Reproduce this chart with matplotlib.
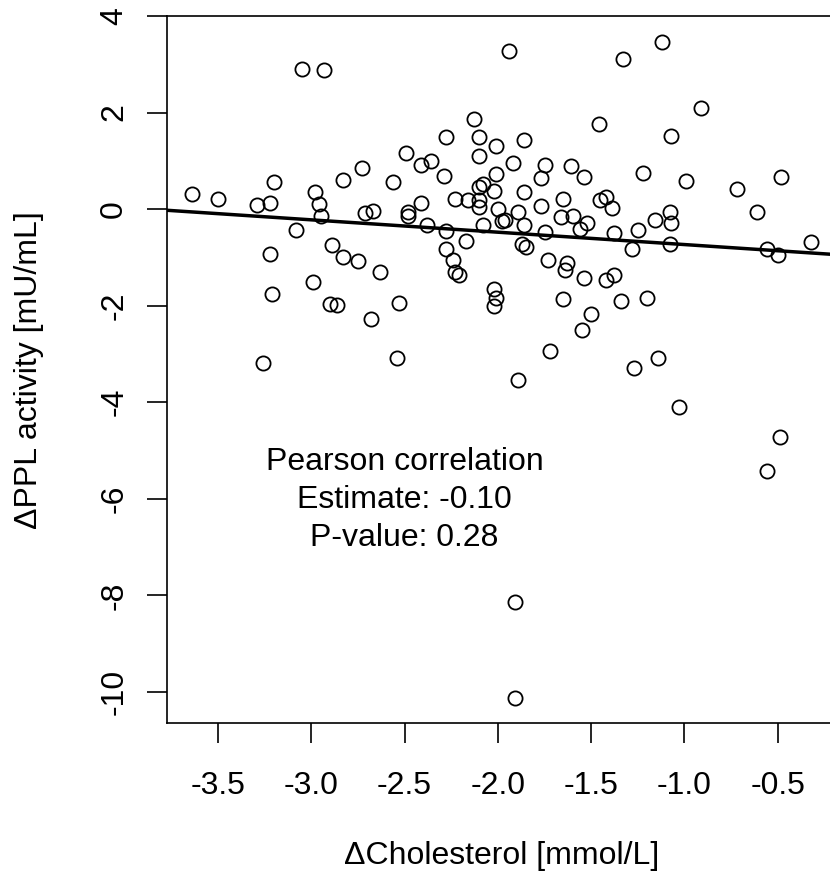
import matplotlib
matplotlib.use('Agg')
import matplotlib.pyplot as plt
import numpy as np

plt.rcParams['font.family'] = ['Liberation Sans', 'DejaVu Sans']
plt.rcParams['axes.unicode_minus'] = False

# change from baseline, one value per subject
chol_change = [
    -3.64, -3.50, -3.29, -3.22, -3.20, -3.05, -2.93, -2.98, -2.96, -2.95,
    -3.08, -2.83, -2.73, -2.71, -2.67, -2.56, -2.89, -3.22, -2.83, -2.75,
    -2.63, -2.99, -3.21, -2.90, -2.86, -2.68, -3.26, -2.53, -2.54,
    -1.94, -1.46, -2.13, -2.28, -2.10, -1.86, -2.01, -2.49, -2.10, -2.36,
    -2.41, -1.92, -1.75, -1.61, -2.29, -2.01, -1.77, -1.54, -2.10, -2.08,
    -2.02, -1.86, -2.23, -2.16, -2.41, -2.10, -2.10, -2.48, -2.48, -2.00,
    -1.89, -1.77, -1.65, -1.45, -1.42, -1.39, -1.66, -1.60, -1.52, -1.56,
    -2.38, -2.28, -2.08, -1.98, -1.96, -1.86, -1.75, -1.38, -2.17, -2.28,
    -2.24, -2.23, -2.21, -1.87, -1.85, -1.73, -1.63, -1.64, -1.54, -1.42,
    -1.38, -2.02, -2.01, -2.02, -1.65, -1.50, -1.55, -1.72, -1.89, -1.91,
    -1.91,
    -1.12, -1.33, -0.91, -1.07, -1.22, -0.99, -0.72, -0.48, -1.08, -1.07,
    -1.16, -0.61, -1.25, -1.28, -1.08, -0.56, -0.50, -0.32, -1.34, -1.20,
    -1.14, -1.27, -1.03, -0.49, -0.56,
]
ppl_change = [
    0.31, 0.21, 0.09, 0.13, 0.57, 2.90, 2.88, 0.35, 0.10, -0.14,
    -0.44, 0.61, 0.86, -0.08, -0.04, 0.57, -0.75, -0.93, -1.00, -1.08,
    -1.31, -1.51, -1.75, -1.97, -1.99, -2.28, -3.19, -1.94, -3.08,
    3.28, 1.76, 1.86, 1.50, 1.50, 1.44, 1.30, 1.16, 1.10, 0.99,
    0.91, 0.96, 0.92, 0.89, 0.68, 0.72, 0.64, 0.67, 0.46, 0.52,
    0.38, 0.35, 0.20, 0.18, 0.13, 0.19, 0.04, -0.05, -0.14, 0.01,
    -0.05, 0.06, 0.21, 0.19, 0.25, 0.03, -0.17, -0.14, -0.28, -0.41,
    -0.32, -0.46, -0.32, -0.24, -0.23, -0.32, -0.48, -0.49, -0.66, -0.82,
    -1.05, -1.30, -1.37, -0.72, -0.79, -1.06, -1.11, -1.26, -1.43, -1.46,
    -1.37, -1.66, -1.84, -2.00, -1.87, -2.17, -2.50, -2.93, -3.53, -8.14,
    -10.12,
    3.46, 3.10, 2.09, 1.51, 0.75, 0.58, 0.42, 0.67, -0.06, -0.28,
    -0.23, -0.06, -0.43, -0.82, -0.73, -0.83, -0.95, -0.69, -1.91, -1.84,
    -3.08, -3.29, -4.10, -4.73, -5.42,
]

# least-squares line
fit_intercept = -0.99
fit_slope = -0.256

x_ticks = [-3.5, -3.0, -2.5, -2.0, -1.5, -1.0, -0.5]
y_ticks = [-10, -8, -6, -4, -2, 0, 2, 4]
stats_lines = ["Pearson correlation", "Estimate: -0.10", "P-value: 0.28"]

W, H = 830, 876
fig = plt.figure(figsize=(W / 100, H / 100), dpi=100)
# plot region in pixels: x 167.3..835, y 16..723.3 (from top)
ax = fig.add_axes([167.3 / W, (H - 723.3) / H, (835 - 167.3) / W, (723.3 - 16) / H])

ax.plot(chol_change, ppl_change, linestyle='none', marker='o', markersize=10.2,
        markerfacecolor='none', markeredgecolor='black', markeredgewidth=1.3)
ax.axline((0, fit_intercept), slope=fit_slope, color='black', lw=2.5)

ax.set_xlim(-3.772, -0.193)
ax.set_ylim(-10.65, 4.0)

for sp in ax.spines.values():
    sp.set_linewidth(1.2)

ax.set_xticks(x_ticks)
ax.set_xticklabels([f"{v:.1f}" for v in x_ticks])
ax.set_yticks(y_ticks)
ax.set_yticklabels([str(v) for v in y_ticks])
ax.tick_params(direction='out', length=14.4, width=1.2, labelsize=23)
ax.tick_params(axis='x', pad=20)
ax.tick_params(axis='y', pad=13, labelrotation=90)
for lab in ax.get_yticklabels():
    lab.set_va('center')

ax.set_xlabel("ΔCholesterol [mmol/L]", fontsize=23)
ax.xaxis.set_label_coords(0.5, -0.187)
ax.xaxis.label.set_va('center')
ax.set_ylabel("ΔPPL activity [mU/mL]", fontsize=23)
ax.yaxis.set_label_coords(-0.207, 0.5)
ax.yaxis.label.set_va('center')

for i, line in enumerate(stats_lines):
    ax.text(-2.5, -5.24 - 0.785 * i, line, ha='center', va='center', fontsize=23)

fig.savefig('out.png', dpi=100)
